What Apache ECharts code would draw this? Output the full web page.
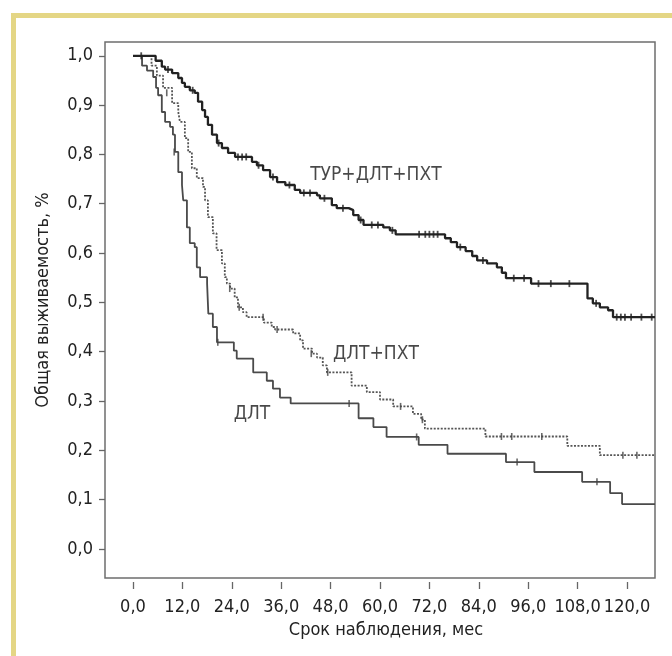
<!DOCTYPE html>
<html><head><meta charset="utf-8">
<script src="https://cdn.jsdelivr.net/npm/echarts@6/dist/echarts.min.js"></script>
<style>html,body{margin:0;padding:0;background:#fff}#c{width:672px;height:656px}</style>
</head><body><div id="c"></div>
<script>
// ---- data ----
var xTicks = [0, 12, 24, 36, 48, 60, 72, 84, 96, 108, 120];
var yTicks = [0, 0.1, 0.2, 0.3, 0.4, 0.5, 0.6, 0.7, 0.8, 0.9, 1.0];
var xTitle = 'Срок наблюдения, мес';
var yTitle = 'Общая выживаемость, %';

// ДЛТ (solid)
var dltTimes = [0, 2.2, 3.4, 4.9, 5.6, 6.1, 7.0, 7.8, 9.0, 9.7, 10.2, 11.0, 11.9, 12.2, 13.1, 13.8, 15.0, 15.5, 16.3, 18.0, 18.3, 19.4, 20.4, 24.5, 25.2, 29.2, 32.5, 34.0, 35.7, 38.3, 54.8, 58.4, 61.6, 69.4, 76.4, 90.6, 97.5, 109.1, 115.9, 118.8, 126.8];
var dltSurv  = [1.0, 0.98, 0.97, 0.957, 0.935, 0.92, 0.886, 0.866, 0.856, 0.84, 0.805, 0.764, 0.738, 0.707, 0.652, 0.62, 0.612, 0.571, 0.551, 0.538, 0.477, 0.45, 0.419, 0.402, 0.386, 0.358, 0.341, 0.325, 0.307, 0.295, 0.265, 0.247, 0.227, 0.211, 0.193, 0.176, 0.156, 0.136, 0.113, 0.091, 0.091];
var dltCensT = [10.0, 20.6, 52.5, 68.9, 93.3, 112.7];
var dltCensS = [0.805, 0.419, 0.295, 0.227, 0.176, 0.136];

// ДЛТ+ПХТ (dotted)
var dpTimes = [0, 4.5, 5.8, 7.3, 9.5, 11.0, 11.4, 12.6, 13.4, 14.3, 15.5, 17.0, 17.5, 18.2, 19.4, 20.3, 21.6, 22.3, 22.8, 23.6, 24.7, 25.5, 26.7, 27.6, 31.8, 33.7, 34.5, 38.9, 40.6, 41.3, 43.5, 44.7, 46.1, 47.1, 53.1, 56.8, 60.0, 63.2, 68.0, 70.0, 70.9, 85.6, 105.5, 113.4, 126.8];
var dpSurv  = [1.0, 0.98, 0.96, 0.935, 0.904, 0.886, 0.866, 0.833, 0.805, 0.772, 0.752, 0.734, 0.707, 0.673, 0.64, 0.606, 0.579, 0.551, 0.538, 0.528, 0.51, 0.49, 0.48, 0.47, 0.459, 0.45, 0.445, 0.437, 0.423, 0.406, 0.396, 0.388, 0.372, 0.358, 0.331, 0.318, 0.303, 0.289, 0.274, 0.262, 0.244, 0.228, 0.209, 0.19, 0.19];
var dpCensT = [8.2, 23.5, 25.8, 31.6, 35.0, 43.3, 47.3, 65.0, 70.3, 89.5, 92.0, 99.3, 119.0, 122.4];
var dpCensS = [0.925, 0.528, 0.49, 0.47, 0.445, 0.396, 0.358, 0.289, 0.262, 0.228, 0.228, 0.228, 0.19, 0.19];

// ТУР+ДЛТ+ПХТ (bold solid)
var turTimes = [0, 5.5, 7.0, 7.8, 9.5, 11.0, 11.9, 12.6, 13.8, 15.0, 15.8, 16.8, 17.5, 18.2, 19.2, 20.4, 21.6, 23.1, 24.8, 28.9, 30.1, 31.6, 33.3, 35.0, 37.0, 39.3, 40.6, 44.7, 45.4, 48.3, 49.5, 52.4, 53.5, 54.8, 56.0, 60.8, 62.4, 63.8, 75.8, 77.2, 78.7, 80.8, 82.4, 83.6, 86.0, 88.4, 89.6, 90.6, 96.7, 110.4, 111.7, 113.4, 115.4, 116.6, 126.8];
var turSurv  = [1.0, 0.99, 0.978, 0.972, 0.965, 0.955, 0.945, 0.937, 0.93, 0.925, 0.907, 0.89, 0.876, 0.86, 0.84, 0.823, 0.813, 0.803, 0.795, 0.785, 0.778, 0.768, 0.754, 0.744, 0.738, 0.728, 0.722, 0.717, 0.711, 0.697, 0.691, 0.687, 0.677, 0.667, 0.657, 0.652, 0.646, 0.638, 0.63, 0.622, 0.612, 0.604, 0.594, 0.585, 0.579, 0.571, 0.56, 0.549, 0.538, 0.508, 0.498, 0.49, 0.484, 0.47, 0.47];
var turCensT = [2.0, 8.5, 14.5, 20.8, 25.5, 26.5, 27.5, 30.5, 34.0, 38.0, 41.5, 43.0, 46.5, 51.0, 55.3, 58.0, 59.5, 63.0, 69.5, 71.0, 72.0, 73.0, 74.0, 79.5, 85.0, 92.5, 95.0, 98.5, 101.5, 106.0, 112.5, 117.5, 118.5, 119.5, 121.0, 123.5, 126.0];
var turCensS = [1.0, 0.972, 0.93, 0.823, 0.795, 0.795, 0.795, 0.778, 0.754, 0.738, 0.722, 0.722, 0.711, 0.691, 0.667, 0.657, 0.657, 0.646, 0.638, 0.638, 0.638, 0.638, 0.638, 0.612, 0.585, 0.549, 0.549, 0.538, 0.538, 0.538, 0.498, 0.47, 0.47, 0.47, 0.47, 0.47, 0.47];

// curve labels: [time, survival, text]
var labelT = [59.0, 59.0, 28.9];
var labelS = [0.758, 0.396, 0.274];
var labelText = ['ТУР+ДЛТ+ПХТ', 'ДЛТ+ПХТ', 'ДЛТ'];

// ---- chart ----
function zip(a, b) { return a.map(function (v, i) { return [v, b[i]]; }); }
function fmt(v) { return v.toFixed(1).replace('.', ','); }
var FONT = '"DejaVu Sans Condensed", "Liberation Sans Narrow", sans-serif';

var chart = echarts.init(document.getElementById('c'), null, { renderer: 'canvas' });
chart.setOption({
  animation: false,
  backgroundColor: '#ffffff',
  graphic: [
    { type: 'rect', shape: { x: 11, y: 13, width: 661, height: 5 }, style: { fill: '#e4d685' }, silent: true },
    { type: 'rect', shape: { x: 11, y: 13, width: 5, height: 643 }, style: { fill: '#e4d685' }, silent: true }
  ],
  grid: { left: 105, right: 17, top: 42, bottom: 78, show: true, borderColor: '#6e6e6e', borderWidth: 1.5, backgroundColor: 'transparent' },
  xAxis: {
    type: 'value', min: -6.8, max: 126.8, offset: 4,
    splitLine: { show: false }, axisLine: { show: false, onZero: false },
    axisTick: { show: true, inside: false, length: 7, customValues: xTicks, lineStyle: { color: '#666', width: 1.3 } },
    axisLabel: { customValues: xTicks, formatter: fmt, margin: 16, color: '#222', fontFamily: FONT, fontSize: 18 },
    name: xTitle, nameLocation: 'middle', nameGap: 38,
    nameTextStyle: { color: '#222', fontFamily: FONT, fontSize: 18, padding: [0, 0, 0, 12] }
  },
  yAxis: {
    type: 'value', min: -0.059, max: 1.028,
    splitLine: { show: false }, axisLine: { show: false, onZero: false },
    axisTick: { show: true, inside: false, length: 6, customValues: yTicks, lineStyle: { color: '#666', width: 1.3 } },
    axisLabel: { customValues: yTicks, formatter: fmt, margin: 12, color: '#222', fontFamily: FONT, fontSize: 18 },
    name: yTitle, nameLocation: 'middle', nameGap: 53, nameRotate: 90,
    nameTextStyle: { color: '#222', fontFamily: FONT, fontSize: 18, padding: [0, 0, 0, 20] }
  },
  series: [
    { type: 'line', step: 'end', data: zip(dltTimes, dltSurv), symbol: 'none', lineStyle: { color: '#4a4a4a', width: 1.8 }, z: 3 },
    { type: 'line', step: 'end', data: zip(dpTimes, dpSurv), symbol: 'none', lineStyle: { color: '#555', width: 1.8, type: [2, 1.5] }, z: 3 },
    { type: 'line', step: 'end', data: zip(turTimes, turSurv), symbol: 'none', lineStyle: { color: '#222', width: 2.3 }, z: 4 },
    { type: 'scatter', data: zip(dltCensT, dltCensS), symbol: 'rect', symbolSize: [1.6, 7], itemStyle: { color: '#444' }, z: 5 },
    { type: 'scatter', data: zip(dpCensT, dpCensS), symbol: 'rect', symbolSize: [1.6, 7], itemStyle: { color: '#444' }, z: 5 },
    { type: 'scatter', data: zip(turCensT, turCensS), symbol: 'rect', symbolSize: [1.8, 7], itemStyle: { color: '#222' }, z: 5 },
    { type: 'scatter', data: labelT.map(function (t, i) { return { value: [t, labelS[i]], name: labelText[i] }; }),
      symbolSize: 0, silent: true,
      label: { show: true, position: 'inside', formatter: '{b}', color: '#1a1a1a', fontFamily: FONT, fontSize: 19 }, z: 6 }
  ]
});
</script></body></html>
